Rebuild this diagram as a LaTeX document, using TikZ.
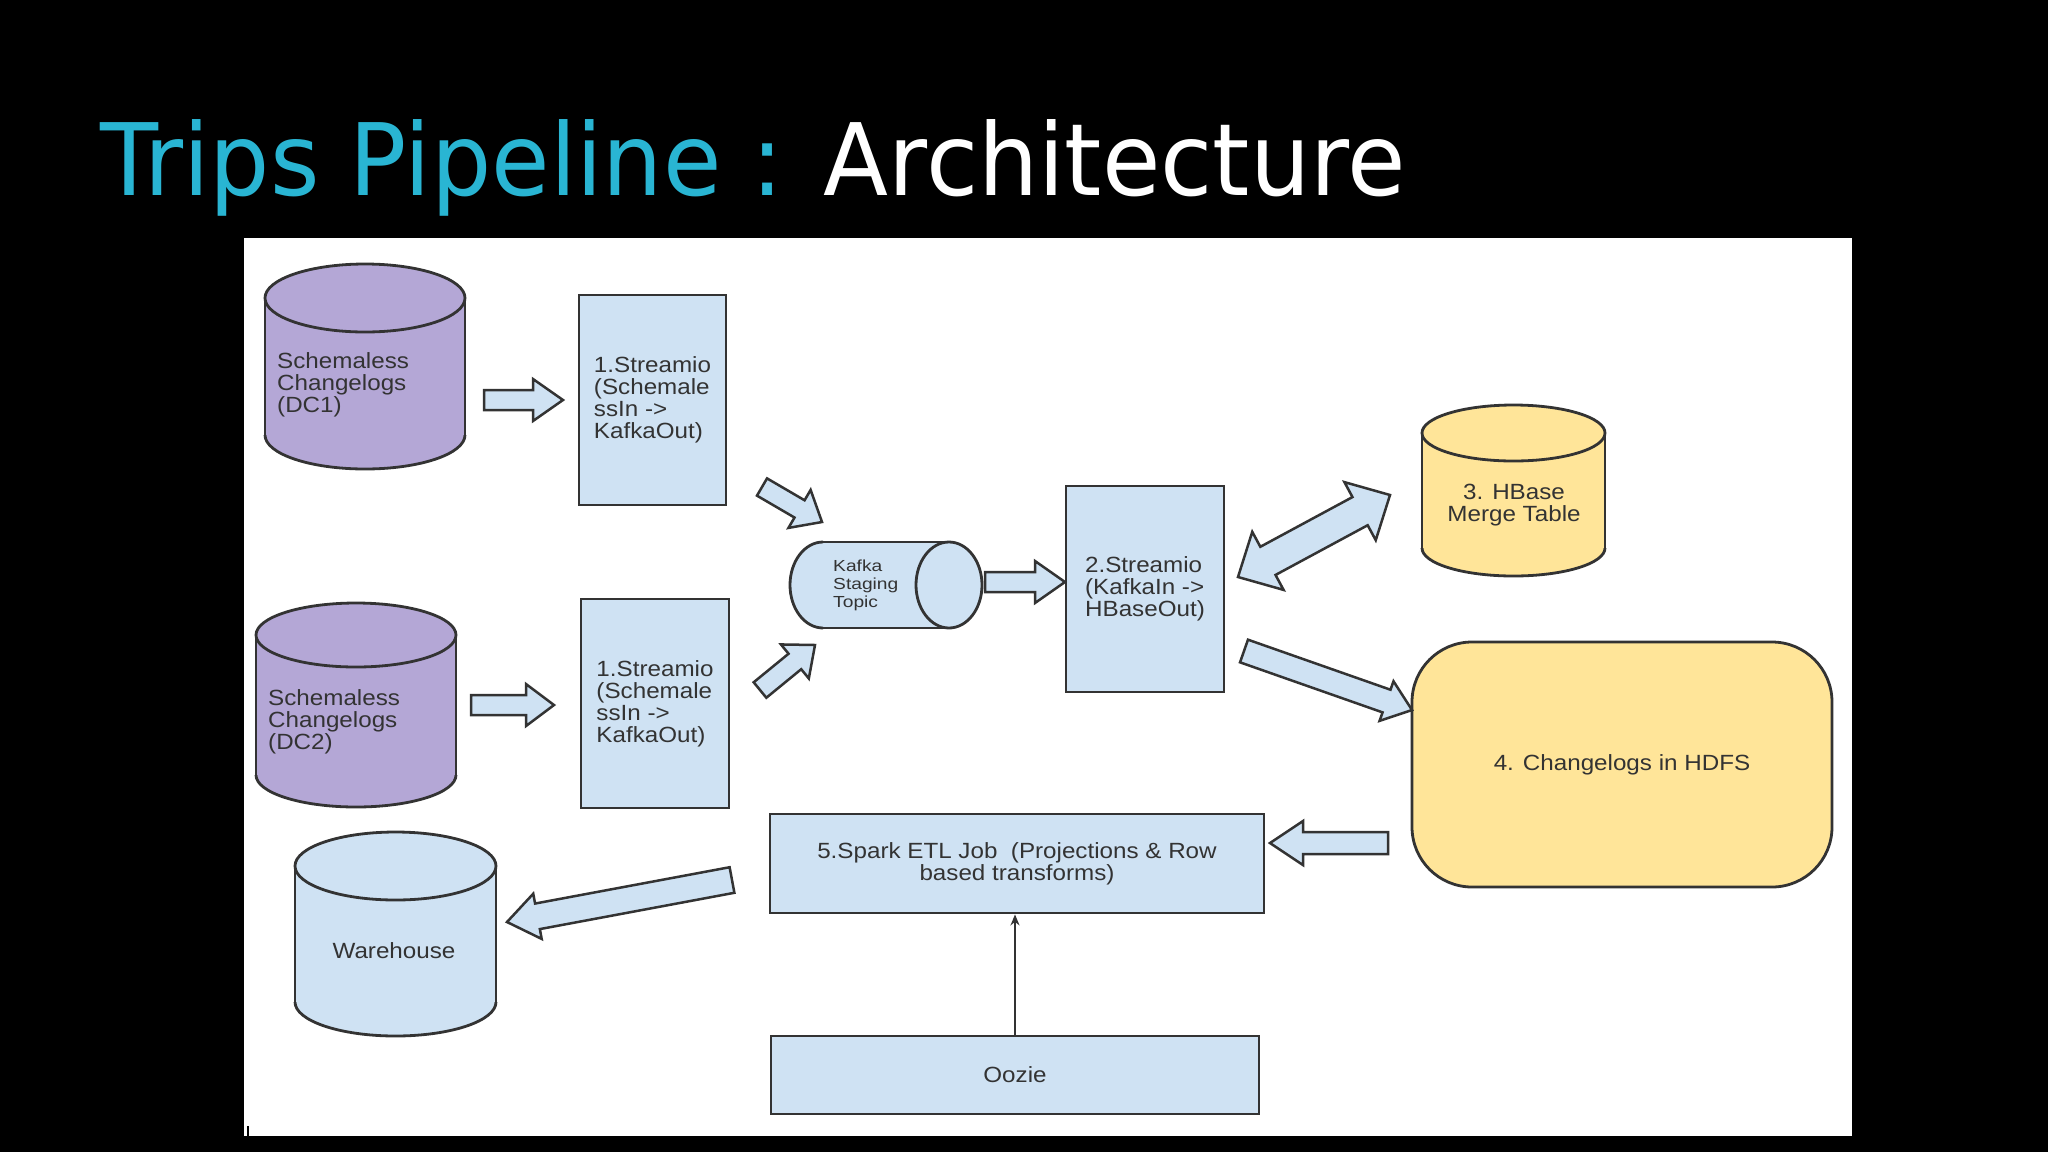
\documentclass[tikz,border=0pt]{standalone}
\usepackage{fontspec}
\setmainfont{Liberation Sans}
\newfontfamily\titlefont[FakeStretch=0.95]{DejaVu Sans}
\newfontfamily\dfont[FakeStretch=1.1]{Liberation Sans}
\newfontfamily\kfont[FakeStretch=1.2]{Liberation Sans}
\usetikzlibrary{calc,arrows.meta}
\definecolor{tcyan}{HTML}{29B5D3}
\definecolor{lblue}{HTML}{CFE2F3}
\definecolor{lpurple}{HTML}{B4A7D6}
\definecolor{lyellow}{HTML}{FFE599}
\definecolor{outc}{HTML}{333333}
\definecolor{txtc}{HTML}{333333}
\tikzset{
  outl/.style={draw=outc, line width=2.8pt},
  barrow/.style={fill=lblue, draw=outc, line width=2.5pt, line join=miter},
  boxnode/.style={outl, fill=lblue, inner sep=0pt, align=left, text=txtc,
     font=\dfont\fontsize{22}{22}\selectfont},
  dtext/.style={inner sep=0pt, text=txtc, font=\dfont\fontsize{22}{22}\selectfont},
}
\newcommand{\vcyl}[6]{%
  \pgfmathsetmacro\cyX{(#1+#2)/2}\pgfmathsetmacro\cyR{(#2-#1)/2}%
  \pgfmathsetmacro\cyT{#3+#5}\pgfmathsetmacro\cyB{#4-#5}%
  \fill[#6] (#1,\cyT) rectangle (#2,\cyB);
  \fill[#6] (\cyX,\cyB) ellipse[x radius=\cyR, y radius=#5];
  \begin{scope}
    \clip (#1-10,\cyB) rectangle (#2+10,#4+10);
    \draw[outl] (\cyX,\cyB) ellipse[x radius=\cyR, y radius=#5];
  \end{scope}
  \draw[outl] (#1,\cyT) -- (#1,\cyB) (#2,\cyT) -- (#2,\cyB);
  \filldraw[fill=#6, outl] (\cyX,\cyT) ellipse[x radius=\cyR, y radius=#5];
}
\newcommand{\blockarrow}[5]{%
  \coordinate (ba-h) at ($(#2)!#5!(#1)$);
  \filldraw[barrow] ($(#1)!#3!90:(#2)$) -- ($(ba-h)!#3!90:(#2)$) -- ($(ba-h)!#4!90:(#2)$)
    -- (#2) -- ($(ba-h)!#4!-90:(#2)$) -- ($(ba-h)!#3!-90:(#2)$) -- ($(#1)!#3!-90:(#2)$) -- cycle;
}
\newcommand{\dblarrow}[5]{%
  \coordinate (da-ha) at ($(#1)!#5!(#2)$);
  \coordinate (da-hb) at ($(#2)!#5!(#1)$);
  \filldraw[barrow] (#1) -- ($(da-ha)!#4!90:(#2)$) -- ($(da-ha)!#3!90:(#2)$)
    -- ($(da-hb)!#3!90:(#2)$) -- ($(da-hb)!#4!90:(#2)$) -- (#2)
    -- ($(da-hb)!#4!-90:(#2)$) -- ($(da-hb)!#3!-90:(#2)$)
    -- ($(da-ha)!#3!-90:(#2)$) -- ($(da-ha)!#4!-90:(#2)$) -- cycle;
}
\begin{document}
\begin{tikzpicture}[x=1pt, y=-1pt]
\useasboundingbox (0,0) rectangle (2048,1152);
\fill[black] (0,0) rectangle (2048,1152);
% title
\node[anchor=base west, inner sep=0pt, font=\titlefont\fontsize{100}{100}\selectfont] (title) at (100,195)
  {\textcolor{tcyan}{Trips Pipeline :} \textcolor{white}{Architecture}};
% white panel
\fill[white] (244,238) rectangle (1852,1136);
\draw[black, line width=2pt] (248,1126) -- (248,1136);

% cylinders
\vcyl{265}{465}{264}{469}{34}{lpurple}
\node[dtext, align=left, anchor=west] (dc1) at (277,385) {Schemaless\\Changelogs\\(DC1)};
\vcyl{256}{456}{603}{807}{32}{lpurple}
\node[dtext, align=left, anchor=west] (dc2) at (268,722) {Schemaless\\Changelogs\\(DC2)};
\vcyl{1422}{1605}{405}{576}{28}{lyellow}
\node[dtext, align=center] (hbase) at (1514,505) {3. HBase\\Merge Table};
\vcyl{295}{496}{832}{1036}{34}{lblue}
\node[dtext] (wh) at (394,951) {Warehouse};

% kafka horizontal cylinder
\fill[lblue] (823,542) rectangle (949,628);
\fill[lblue] (823,585) ellipse[x radius=33, y radius=43];
\begin{scope}
  \clip (780,530) rectangle (823,640);
  \draw[outl] (823,585) ellipse[x radius=33, y radius=43];
\end{scope}
\draw[outl] (823,542) -- (949,542) (823,628) -- (949,628);
\filldraw[fill=lblue, outl] (949,585) ellipse[x radius=33, y radius=43];
\node[inner sep=0pt, text=txtc, align=left, anchor=west, font=\kfont\fontsize{16}{18}\selectfont] (kafka) at (833,585)
  {Kafka\\Staging\\Topic};

% boxes
\node[boxnode, minimum width=147pt, minimum height=210pt] (s1a) at (652.5,400) {1.Streamio\\(Schemale\\ssIn ->\\KafkaOut)};
\node[boxnode, minimum width=148pt, minimum height=209pt] (s1b) at (655,703.5) {1.Streamio\\(Schemale\\ssIn ->\\KafkaOut)};
\node[boxnode, minimum width=158pt, minimum height=206pt] (s2) at (1145,589) {2.Streamio\\(KafkaIn ->\\HBaseOut)};
\node[boxnode, fill=lyellow, rounded corners=60pt, minimum width=420pt, minimum height=245pt] (hdfs) at (1622,764.5) {4. Changelogs in HDFS};
\node[boxnode, align=center, minimum width=494pt, minimum height=99pt] (spark) at (1017,863.5) {5.Spark ETL Job\ \ (Projections \& Row\\based transforms)};
\node[boxnode, minimum width=488pt, minimum height=78pt] (oozie) at (1015,1075) {Oozie};

% block arrows
\coordinate (a1s) at (484,400); \coordinate (a1e) at (563,400);
\blockarrow{a1s}{a1e}{10pt}{21pt}{30pt}
\coordinate (a2s) at (471,705); \coordinate (a2e) at (554,705);
\blockarrow{a2s}{a2e}{10pt}{21pt}{28pt}
\coordinate (a3s) at (762,487); \coordinate (a3e) at (822,522);
\blockarrow{a3s}{a3e}{10pt}{22pt}{26pt}
\coordinate (a4s) at (760,690); \coordinate (a4e) at (815,645);
\blockarrow{a4s}{a4e}{10pt}{22pt}{26pt}
\coordinate (a5s) at (985,582); \coordinate (a5e) at (1065,582);
\blockarrow{a5s}{a5e}{10pt}{21pt}{30pt}
\coordinate (a6s) at (1238,577); \coordinate (a6e) at (1390,495);
\dblarrow{a6s}{a6e}{16pt}{33pt}{34pt}
\coordinate (a7s) at (1244,651); \coordinate (a7e) at (1412,710);
\blockarrow{a7s}{a7e}{12pt}{21pt}{27pt}
\coordinate (a8s) at (1388,843); \coordinate (a8e) at (1270,843);
\blockarrow{a8s}{a8e}{11pt}{22pt}{33pt}
\coordinate (a9s) at (732,880); \coordinate (a9e) at (507,922);
\blockarrow{a9s}{a9e}{13pt}{23pt}{31pt}

% oozie -> spark
\draw[draw=outc, line width=2pt, -{Stealth[length=11pt, width=9pt]}] (oozie.north) -- (oozie.north |- spark.south);
\end{tikzpicture}
\end{document}
